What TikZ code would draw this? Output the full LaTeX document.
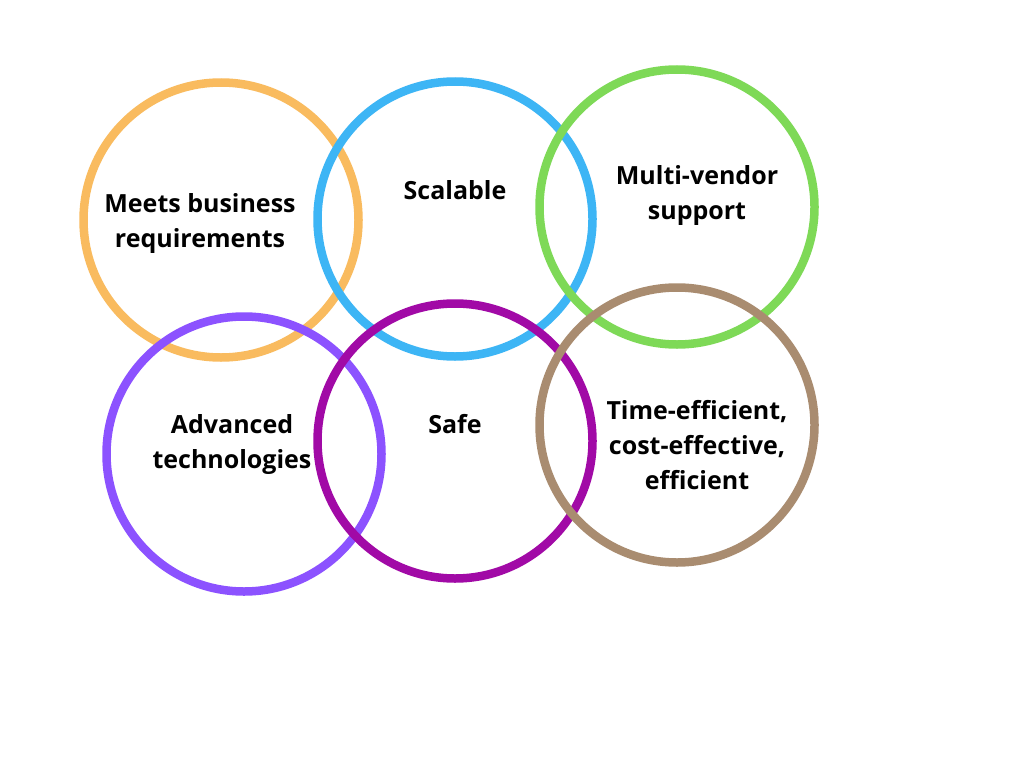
\documentclass[tikz,border=0pt]{standalone}
\usepackage{fontspec}
\setmainfont{Open Sans}
\definecolor{corange}{HTML}{F9BB5F}
\definecolor{cblue}{HTML}{3DB5F5}
\definecolor{cgreen}{HTML}{7ED957}
\definecolor{cpurple}{HTML}{8C52FF}
\definecolor{cmagenta}{HTML}{A10AA6}
\definecolor{cbrown}{HTML}{A98C70}
\begin{document}
\begin{tikzpicture}[x=1pt,y=-1pt,
  ring/.style={circle,draw=#1,line width=8.5pt,minimum size=275pt,inner sep=0pt},
  lbl/.style={align=center,font=\fontsize{25}{35}\selectfont\bfseries,text=black,inner sep=0pt}]
\useasboundingbox[fill=white] (0,0) rectangle (1024,768);
\node[ring=corange] (c1) at (221,220) {};
\node[ring=cblue] (c2) at (455,219) {};
\node[ring=cgreen] (c3) at (677,207) {};
\node[ring=cpurple] (c4) at (244,454) {};
\node[ring=cmagenta] (c5) at (455,441) {};
\node[ring=cbrown] (c6) at (677,425) {};
\node[lbl] (t1) at (200,224) {Meets business\\requirements};
\node[lbl] (t2) at (455,190) {Scalable};
\node[lbl] (t3) at (697,196) {Multi-vendor\\support};
\node[lbl] (t4) at (232,444) {Advanced\\technologies};
\node[lbl] (t5) at (455,424) {Safe};
\node[lbl] (t6) at (697,445) {Time-efficient,\\cost-effective,\\efficient};
\end{tikzpicture}
\end{document}
